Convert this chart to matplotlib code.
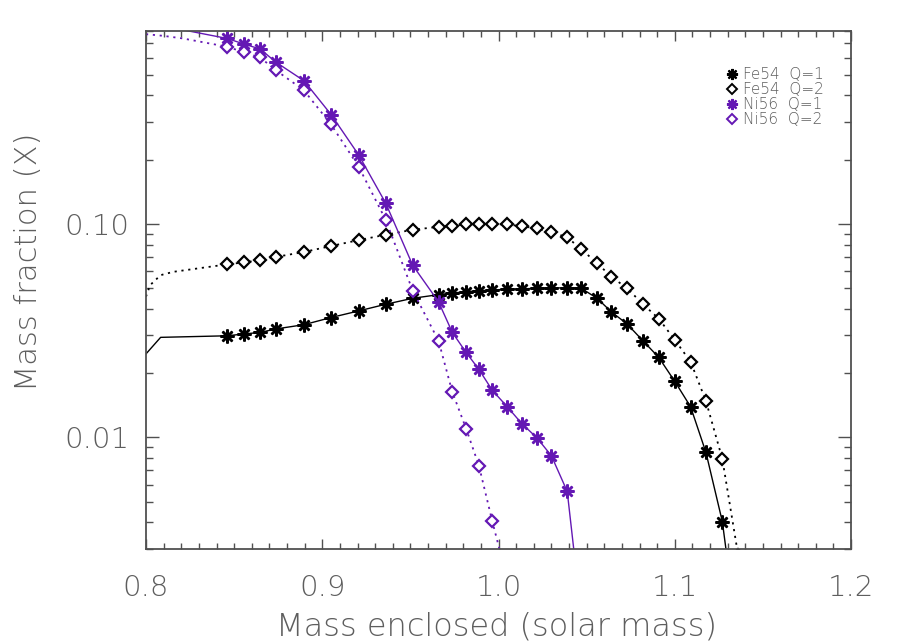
import matplotlib
matplotlib.use('Agg')
import matplotlib.pyplot as plt
from matplotlib.lines import Line2D
from matplotlib.ticker import FixedLocator, FixedFormatter, NullFormatter, MultipleLocator

# ---------------- data ----------------
mass = [0.8461, 0.8556, 0.8647, 0.8738, 0.8896, 0.9050, 0.9207, 0.9360, 0.9513, 0.9660,
        0.9738, 0.9816, 0.9889, 0.9965, 1.0050, 1.0132, 1.0218, 1.0300, 1.0390, 1.0468,
        1.0561, 1.0640, 1.0729, 1.0820, 1.0909, 1.1000, 1.1090, 1.1177, 1.1270, 1.1360]

fe54_q1 = [0.0299, 0.0305, 0.0310, 0.0322, 0.0337, 0.0364, 0.0391, 0.0420, 0.0448, 0.0466,
           0.0474, 0.0481, 0.0486, 0.0490, 0.0494, 0.0496, 0.0499, 0.0500, 0.0502, 0.0500,
           0.0447, 0.0387, 0.0340, 0.0283, 0.0237, 0.0183, 0.0139, 0.0085, 0.00403, 0.0011]
fe54_q2 = [0.0646, 0.0660, 0.0675, 0.0700, 0.0738, 0.0787, 0.0839, 0.0889, 0.0938, 0.0968,
           0.0982, 0.0993, 0.0996, 0.0996, 0.0993, 0.0975, 0.0951, 0.0914, 0.0865, 0.0762,
           0.0653, 0.0565, 0.0500, 0.0420, 0.0360, 0.0286, 0.0226, 0.0148, 0.00792, 0.0028]
ni56_q1 = [0.738, 0.695, 0.659, 0.571, 0.468, 0.325, 0.210, 0.125, 0.0640, 0.0431,
           0.0310, 0.0250, 0.0208, 0.0166, 0.0139, 0.0116, 0.00995, 0.0082, 0.00558, 0.0015]
ni56_q2 = [0.675, 0.636, 0.602, 0.523, 0.422, 0.292, 0.185, 0.1044, 0.0487, 0.0283,
           0.0163, 0.0110, 0.00736, 0.00404, 0.00215]

# inner (unmarked) parts of the profiles
fe54_q1_inner_x = [0.8000, 0.8083]
fe54_q1_inner_y = [0.0246, 0.0294]
fe54_q2_inner_x = [0.8000, 0.8023, 0.8083, 0.8155]
fe54_q2_inner_y = [0.0456, 0.0516, 0.0575, 0.0596]
ni56_q1_inner_x = [0.8000]
ni56_q1_inner_y = [0.875]
ni56_q2_inner_x = [0.8000, 0.8100, 0.8210]
ni56_q2_inner_y = [0.773, 0.759, 0.738]

labels = ['Fe54  Q=1', 'Fe54  Q=2', 'Ni56  Q=1', 'Ni56  Q=2']
xticks = [0.8, 0.9, 1.0, 1.1, 1.2]
xticklabels = ['0.8', '0.9', '1.0', '1.1', '1.2']
yticks = [0.01, 0.10]
yticklabels = ['0.01', '0.10']

# ---------------- style ----------------
BLACK = '#000000'
PURPLE = '#6418b4'
TXT = '#5e5e5e'
AX = '#505050'
FONT = 'DejaVu Sans'
WEIGHT = 'ultralight'

plt.rcParams['font.family'] = [FONT]
plt.rcParams['font.weight'] = WEIGHT

fig = plt.figure(figsize=(9, 6.43), dpi=100)
ax = fig.add_axes([146/900, 1-549/643, (851-146)/900, (549-31)/643])
ax.set_yscale('log')

STAR = (8, 2, 0)

def series(xin, yin, y, color, ls, marker):
    n = len(y)
    xs = list(xin) + mass[:n]
    ys = list(yin) + list(y)
    kw = dict(color=color, lw=1.0)
    if ls == 'dot':
        kw['linestyle'] = (0, (1.2, 2.6))
        kw['lw'] = 1.3
    if marker == 'star':
        mk = dict(marker=STAR, markersize=10, markeredgewidth=1.8,
                  markeredgecolor=color)
    else:
        mk = dict(marker='D', markersize=6.5, markeredgewidth=1.6,
                  markerfacecolor='white', markeredgecolor=color)
    ax.plot(xs, ys, markevery=list(range(len(xin), len(xs))), **kw, **mk)

series(fe54_q1_inner_x, fe54_q1_inner_y, fe54_q1, BLACK, 'solid', 'star')
series(fe54_q2_inner_x, fe54_q2_inner_y, fe54_q2, BLACK, 'dot', 'diamond')
series(ni56_q1_inner_x, ni56_q1_inner_y, ni56_q1, PURPLE, 'solid', 'star')
series(ni56_q2_inner_x, ni56_q2_inner_y, ni56_q2, PURPLE, 'dot', 'diamond')

ax.set_xlim(0.8, 1.2)
ax.set_ylim(0.003, 0.8)

# ticks
ax.xaxis.set_major_locator(FixedLocator(xticks))
ax.xaxis.set_major_formatter(FixedFormatter(xticklabels))
ax.xaxis.set_minor_locator(MultipleLocator(0.01))
ax.yaxis.set_major_locator(FixedLocator(yticks))
ax.yaxis.set_major_formatter(FixedFormatter(yticklabels))
yminor = [v * d for d in (0.001, 0.01, 0.1) for v in range(2, 10)]
ax.yaxis.set_minor_locator(FixedLocator(yminor))
ax.yaxis.set_minor_formatter(NullFormatter())

ax.tick_params(which='both', direction='in', top=True, right=True, color=AX, width=1.0)
ax.tick_params(axis='x', which='major', length=7.5, pad=18, labelsize=21, labelcolor=TXT)
ax.tick_params(axis='x', which='minor', length=4)
ax.tick_params(axis='y', which='major', length=9.5, pad=12, labelsize=21, labelcolor=TXT)
ax.tick_params(axis='y', which='minor', length=5)
for lab in ax.get_xticklabels() + ax.get_yticklabels():
    lab.set_fontweight(WEIGHT)
for sp in ax.spines.values():
    sp.set_color(AX)
    sp.set_linewidth(1.3)

fig.text(497/900, 1-627/643, 'Mass enclosed (solar mass)', ha='center', va='center',
         fontsize=23, color=TXT, fontweight=WEIGHT)
fig.text(29/900, 1-262/643, 'Mass fraction (X)', ha='center', va='center',
         rotation=90, fontsize=22, color=TXT, fontweight=WEIGHT)

handles = [
    Line2D([], [], ls='none', marker=STAR, markersize=8, markeredgewidth=1.6, color=BLACK),
    Line2D([], [], ls='none', marker='D', markersize=5.5, markeredgewidth=1.4,
           markerfacecolor='white', markeredgecolor=BLACK),
    Line2D([], [], ls='none', marker=STAR, markersize=8, markeredgewidth=1.6, color=PURPLE),
    Line2D([], [], ls='none', marker='D', markersize=5.5, markeredgewidth=1.4,
           markerfacecolor='white', markeredgecolor=PURPLE),
]
leg = ax.legend(handles, labels, loc='upper left', bbox_to_anchor=(0.822, 0.93),
                frameon=False, prop={'size': 11, 'weight': WEIGHT},
                handlelength=0.8, handletextpad=0.35,
                labelspacing=0.0, borderpad=0, borderaxespad=0)
for t in leg.get_texts():
    t.set_color(TXT)

fig.savefig('out.png', dpi=100)
